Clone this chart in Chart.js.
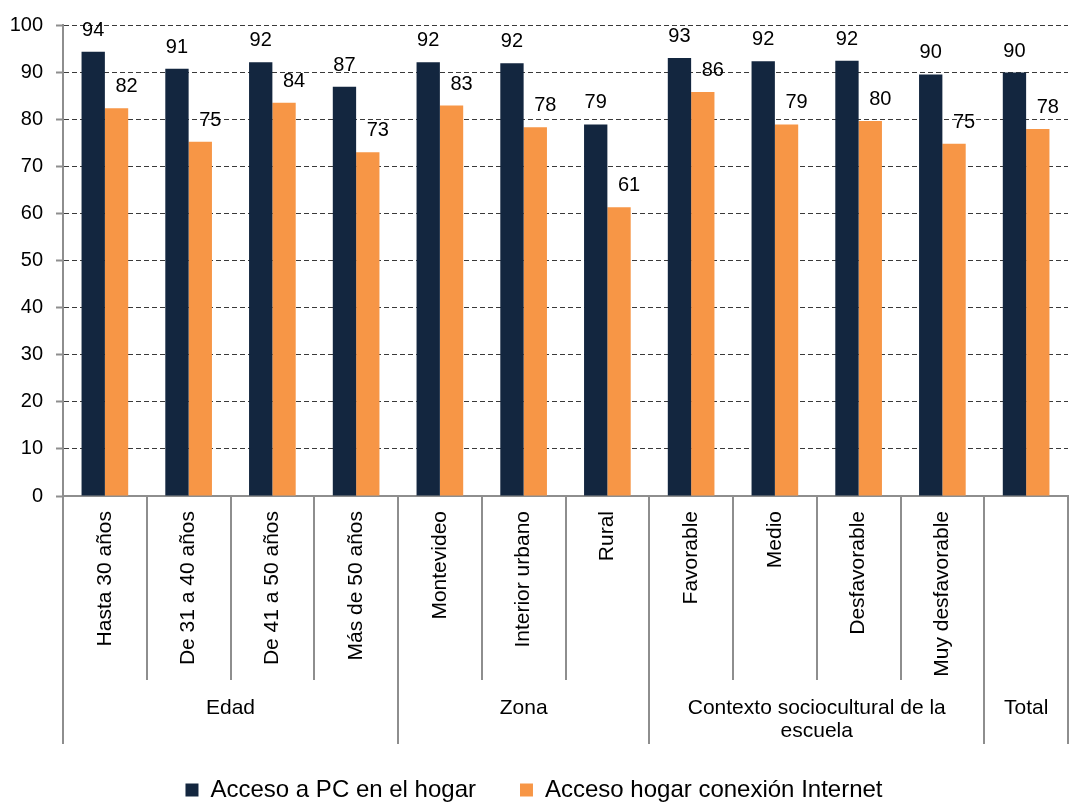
<!DOCTYPE html>
<html>
<head>
<meta charset="utf-8">
<script src="https://cdn.jsdelivr.net/npm/chart.js@4.4.0/dist/chart.umd.min.js"></script>
<style>
html, body { margin: 0; padding: 0; background: #fff; overflow: hidden; }
</style>
</head>
<body>
<canvas id="chart" width="1070" height="812"></canvas>
<script>
const categories = ['Hasta 30 años', 'De 31 a 40 años', 'De 41 a 50 años', 'Más de 50 años', 'Montevideo', 'Interior urbano', 'Rural', 'Favorable', 'Medio', 'Desfavorable', 'Muy desfavorable', ''];
const groupNames = [['Edad'], ['Zona'], ['Contexto sociocultural de la', 'escuela'], ['Total']];
const groupSizes = [4, 3, 4, 1];
const seriesNames = ['Acceso a PC en el hogar', 'Acceso hogar conexión Internet'];
const pcHogar = [94.3, 90.7, 92.1, 86.9, 92.1, 91.9, 78.9, 93.0, 92.3, 92.4, 89.5, 89.9];
const internetHogar = [82.3, 75.2, 83.5, 73.0, 82.9, 78.3, 61.3, 85.8, 78.9, 79.6, 74.8, 77.9];

const FONT = '"Liberation Sans", Arial, sans-serif';
Chart.defaults.font.family = FONT;
Chart.defaults.color = '#000';

// value labels above the bars
const dataLabels = {
    id: 'dataLabels',
    afterDatasetsDraw(chart) {
        const ctx = chart.ctx;
        ctx.save();
        ctx.font = '20px ' + FONT;
        ctx.fillStyle = '#000';
        ctx.textAlign = 'center';
        ctx.textBaseline = 'alphabetic';
        chart.data.datasets.forEach((ds, i) => {
            chart.getDatasetMeta(i).data.forEach((bar, j) => {
                ctx.fillText(Math.round(ds.data[j]), bar.x + (i === 1 ? 10 : 0), bar.y - 16);
            });
        });
        ctx.restore();
    }
};

// separators and group names under the category axis
const groupAxis = {
    id: 'groupAxis',
    afterDraw(chart) {
        const x = chart.scales.x;
        const ctx = chart.ctx;
        const top = x.top;
        const edge = i => {
            if (i === 0) return x.left;
            if (i === categories.length) return x.right;
            return (x.getPixelForValue(i - 1) + x.getPixelForValue(i)) / 2;
        };
        const groupEdges = [0];
        groupSizes.forEach(n => groupEdges.push(groupEdges[groupEdges.length - 1] + n));

        ctx.save();
        ctx.strokeStyle = '#8e8e8e';
        ctx.lineWidth = 2;
        for (let i = 0; i <= categories.length; i++) {
            const px = Math.round(edge(i));
            const bottom = groupEdges.includes(i) ? top + 248 : top + 184;
            ctx.beginPath();
            ctx.moveTo(px, top);
            ctx.lineTo(px, bottom);
            ctx.stroke();
        }
        ctx.font = '21px ' + FONT;
        ctx.fillStyle = '#000';
        ctx.textAlign = 'center';
        ctx.textBaseline = 'alphabetic';
        groupNames.forEach((lines, g) => {
            const cx = (edge(groupEdges[g]) + edge(groupEdges[g + 1])) / 2;
            lines.forEach((t, k) => ctx.fillText(t, cx, top + 218 + k * 23));
        });
        ctx.restore();
    }
};

new Chart(document.getElementById('chart'), {
    type: 'bar',
    data: {
        labels: categories,
        datasets: [{
            label: seriesNames[0],
            data: pcHogar,
            backgroundColor: '#13263f',
            barPercentage: 1,
            categoryPercentage: 0.557
        }, {
            label: seriesNames[1],
            data: internetHogar,
            backgroundColor: '#f79646',
            barPercentage: 1,
            categoryPercentage: 0.557
        }]
    },
    options: {
        responsive: false,
        animation: false,
        layout: { padding: { top: 21, right: 2, left: 0, bottom: 0 } },
        plugins: {
            legend: {
                position: 'bottom',
                labels: {
                    font: { size: 24 },
                    color: '#000',
                    boxWidth: 13,
                    boxHeight: 13,
                    padding: 44
                }
            },
            tooltip: { enabled: false }
        },
        scales: {
            x: {
                grid: { display: false, drawTicks: false },
                border: { color: '#8e8e8e', width: 2 },
                ticks: {
                    color: '#000',
                    font: { size: 21 },
                    minRotation: 90,
                    maxRotation: 90,
                    autoSkip: false,
                    padding: 15
                },
                afterFit(scale) { scale.height = 238; }
            },
            y: {
                min: 0,
                max: 100,
                ticks: { stepSize: 10, color: '#000', font: { size: 20 }, padding: 13 },
                grid: {
                    color: '#3a3a3a',
                    tickColor: '#8e8e8e',
                    tickLength: 7,
                    tickWidth: 2,
                    tickBorderDash: []
                },
                border: { color: '#8e8e8e', width: 2, dash: [5, 3] },
                afterFit(scale) { scale.width = 63; }
            }
        }
    },
    plugins: [dataLabels, groupAxis]
});
</script>
</body>
</html>
